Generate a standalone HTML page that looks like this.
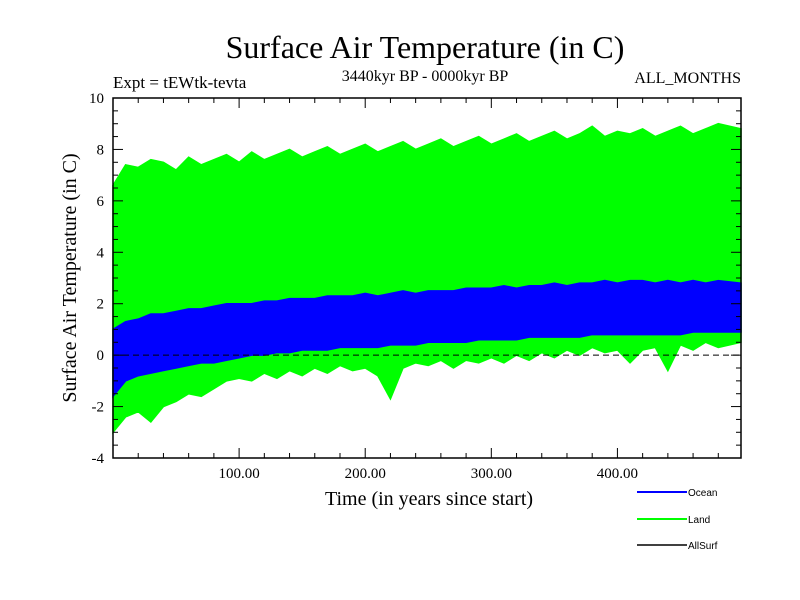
<!DOCTYPE html>
<html><head><meta charset="utf-8">
<style>
body{margin:0;background:#fff;}
svg{display:block;font-family:"Liberation Serif",serif;}
</style></head>
<body>
<svg id="chart" width="800" height="600" xmlns="http://www.w3.org/2000/svg">
<text x="425" y="58" font-size="32" text-anchor="middle">Surface Air Temperature (in C)</text>
<text x="425" y="81" font-size="16" text-anchor="middle">3440kyr BP - 0000kyr BP</text>
<text x="113" y="88" font-size="17">Expt = tEWtk-tevta</text>
<text x="741" y="83" font-size="16" text-anchor="end">ALL_MONTHS</text>
<g id="plot"></g>
<text x="429" y="505" font-size="20" text-anchor="middle">Time (in years since start)</text>
<text transform="translate(76,278) rotate(-90)" font-size="20" text-anchor="middle">Surface Air Temperature (in C)</text>
<g font-family="Liberation Sans, sans-serif" font-size="10">
<g><line x1="637" y1="492" x2="687" y2="492" stroke="#0000ff" stroke-width="2"/><text x="688" y="496">Ocean</text></g>
<g><line x1="637" y1="519" x2="687" y2="519" stroke="#00ff00" stroke-width="2"/><text x="688" y="523">Land</text></g>
<g><line x1="637" y1="545" x2="687" y2="545" stroke="#000" stroke-width="1.5"/><text x="688" y="549">AllSurf</text></g>
</g>
</svg>
<script>
const years=[0,10,20,30,40,50,60,70,80,90,100,110,120,130,140,150,160,170,180,190,200,210,220,230,240,250,260,270,280,290,300,310,320,330,340,350,360,370,380,390,400,410,420,430,440,450,460,470,480,498];
const landUpper=[6.6,7.4,7.3,7.6,7.5,7.2,7.7,7.4,7.6,7.8,7.5,7.9,7.6,7.8,8.0,7.7,7.9,8.1,7.8,8.0,8.2,7.9,8.1,8.3,8.0,8.2,8.4,8.1,8.3,8.5,8.2,8.4,8.6,8.3,8.5,8.7,8.4,8.6,8.9,8.5,8.7,8.6,8.8,8.5,8.7,8.9,8.6,8.8,9.0,8.8];
const landLower=[-3.0,-2.4,-2.2,-2.6,-2.0,-1.8,-1.5,-1.6,-1.3,-1.0,-0.9,-1.0,-0.7,-0.9,-0.6,-0.8,-0.5,-0.7,-0.4,-0.6,-0.5,-0.8,-1.7,-0.5,-0.3,-0.4,-0.2,-0.5,-0.2,-0.3,-0.1,-0.3,0.0,-0.2,0.1,-0.1,0.2,0.0,0.3,0.1,0.2,-0.3,0.2,0.3,-0.6,0.4,0.2,0.5,0.3,0.5];
const oceanUpper=[1.0,1.3,1.4,1.6,1.6,1.7,1.8,1.8,1.9,2.0,2.0,2.0,2.1,2.1,2.2,2.2,2.2,2.3,2.3,2.3,2.4,2.3,2.4,2.5,2.4,2.5,2.5,2.5,2.6,2.6,2.6,2.7,2.6,2.7,2.7,2.8,2.7,2.8,2.8,2.9,2.8,2.9,2.9,2.8,2.9,2.8,2.9,2.8,2.9,2.8];
const oceanLower=[-1.6,-1.0,-0.8,-0.7,-0.6,-0.5,-0.4,-0.3,-0.3,-0.2,-0.1,0.0,0.0,0.1,0.1,0.2,0.2,0.2,0.3,0.3,0.3,0.3,0.4,0.4,0.4,0.5,0.5,0.5,0.5,0.6,0.6,0.6,0.6,0.7,0.7,0.7,0.7,0.7,0.8,0.8,0.8,0.8,0.8,0.8,0.8,0.8,0.9,0.9,0.9,0.9];
const xTicks=[100,200,300,400];
const xTickLabels=["100.00","200.00","300.00","400.00"];
const yTicks=[-4,-2,0,2,4,6,8,10];

const X0=113,X1=741,Y0=98,Y1=458,XMIN=0,XMAX=498,YMIN=-4,YMAX=10;
const xs=v=>X0+(v-XMIN)/(XMAX-XMIN)*(X1-X0);
const ys=v=>Y1-(v-YMIN)/(YMAX-YMIN)*(Y1-Y0);
const NS="http://www.w3.org/2000/svg";
const g=document.getElementById('plot');
function mk(tag,attrs){const e=document.createElementNS(NS,tag);for(const k in attrs)e.setAttribute(k,attrs[k]);g.appendChild(e);return e;}
function band(up,lo,color){
  let pts=years.map((y,i)=>xs(y)+','+ys(up[i]));
  pts=pts.concat(years.map((y,i)=>xs(y)+','+ys(lo[i])).reverse());
  return mk('polygon',{points:pts.join(' '),fill:color,stroke:color,'stroke-width':1.5});
}
const land=band(landUpper,landLower,'#00ff00');


const ocean=band(oceanUpper,oceanLower,'#0000ff');


const zl=mk('line',{x1:X0,x2:X1,y1:ys(0),y2:ys(0),stroke:'#000','stroke-dasharray':'6,4','stroke-width':1});


const fr=mk('rect',{x:X0,y:Y0,width:X1-X0,height:Y1-Y0,fill:'none',stroke:'#000','stroke-width':1.5});


// minor ticks
for(let v=20;v<XMAX;v+=20){const big=v%100===0;const L=big?10:5;
  mk('line',{x1:xs(v),x2:xs(v),y1:Y1,y2:Y1-L,stroke:'#000'});
  mk('line',{x1:xs(v),x2:xs(v),y1:Y0,y2:Y0+L,stroke:'#000'});}
for(let v=YMIN;v<=YMAX;v+=0.5){const big=v%2===0;const L=big?10:5;
  mk('line',{x1:X0,x2:X0+L,y1:ys(v),y2:ys(v),stroke:'#000'});
  mk('line',{x1:X1,x2:X1-L,y1:ys(v),y2:ys(v),stroke:'#000'});}
xTicks.forEach((v,i)=>{const t=mk('text',{x:xs(v),y:478,'font-size':15,'text-anchor':'middle'});t.textContent=xTickLabels[i];
  
  });
yTicks.forEach(v=>{const t=mk('text',{x:104,y:ys(v)+5,'font-size':15,'text-anchor':'end'});t.textContent=v;
  
  });
</script>
</body></html>
